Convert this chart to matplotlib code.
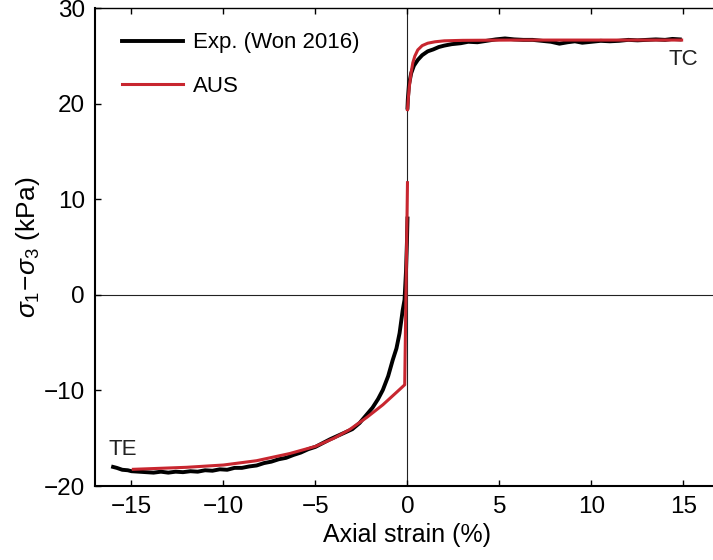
import matplotlib
matplotlib.use("Agg")
import matplotlib.pyplot as plt

plt.rcParams['font.family'] = ['Liberation Sans', 'DejaVu Sans']
plt.rcParams['mathtext.fontset'] = 'custom'
plt.rcParams['mathtext.rm'] = 'Liberation Sans'
plt.rcParams['mathtext.it'] = 'Liberation Sans:italic'

# Experimental data (Won 2016) - extension branch
exp_te_x = [-16.0, -15.8, -15.5, -15.2, -15.0, -14.6, -14.2, -13.8, -13.4, -13.0, -12.6, -12.2,
            -11.8, -11.4, -11.0, -10.6, -10.2, -9.8, -9.4, -9.0, -8.6, -8.2, -7.8, -7.4, -7.0,
            -6.6, -6.2, -5.8, -5.4, -5.0, -4.6, -4.2, -3.8, -3.4, -3.0, -2.6, -2.25, -1.9, -1.6,
            -1.34, -1.05, -0.8, -0.6, -0.43, -0.26, -0.16, -0.08, -0.03, 0.0]
exp_te_y = [-18.0, -18.1, -18.3, -18.35, -18.45, -18.5, -18.55, -18.6, -18.5, -18.6, -18.5, -18.55,
            -18.45, -18.5, -18.35, -18.4, -18.25, -18.3, -18.1, -18.1, -17.95, -17.85, -17.6, -17.45, -17.2,
            -17.05, -16.75, -16.5, -16.15, -15.9, -15.5, -15.1, -14.75, -14.4, -14.05, -13.4, -12.6, -11.8, -10.9,
            -9.95, -8.5, -6.8, -5.6, -4.0, -1.6, -0.5, 2.5, 5.5, 8.0]
# Experimental data - compression branch
exp_tc_x = [0.0, 0.02, 0.08, 0.2, 0.35, 0.56, 0.8, 1.1, 1.4, 1.7, 2.0, 2.4, 2.9, 3.3, 3.8, 4.3, 4.8,
            5.3, 5.8, 6.3, 6.8, 7.3, 7.8, 8.26, 8.7, 9.1, 9.5, 10.0, 10.5, 11.0, 11.5, 12.0, 12.5,
            13.0, 13.5, 14.0, 14.4, 14.8]
exp_tc_y = [19.6, 20.5, 22.0, 23.2, 24.0, 24.6, 25.1, 25.5, 25.7, 25.95, 26.1, 26.25, 26.35, 26.5,
            26.45, 26.6, 26.75, 26.85, 26.75, 26.7, 26.7, 26.6, 26.5, 26.3, 26.45, 26.55, 26.4, 26.5,
            26.6, 26.55, 26.6, 26.7, 26.65, 26.7, 26.75, 26.7, 26.8, 26.75]

# AUS model - extension branch
aus_te_x = [-14.9, -13.5, -12.0, -10.0, -8.2, -6.4, -5.0, -4.0, -3.15, -2.2, -1.34, -0.6, -0.15, 0.0]
aus_te_y = [-18.25, -18.15, -18.04, -17.8, -17.35, -16.6, -15.85, -15.0, -14.1, -12.8, -11.5, -10.2, -9.4, 11.75]
# AUS model - compression branch
aus_tc_x = [0.0, 0.05, 0.1, 0.2, 0.29, 0.4, 0.56, 0.8, 1.1, 1.5, 2.0, 3.0, 5.8, 14.9]
aus_tc_y = [19.4, 20.7, 21.8, 23.3, 24.3, 25.0, 25.65, 26.1, 26.35, 26.5, 26.6, 26.65, 26.68, 26.68]

xticks = [-15, -10, -5, 0, 5, 10, 15]
yticks = [-20, -10, 0, 10, 20, 30]

red = '#c8262f'

fig = plt.figure(figsize=(7.13, 5.60), dpi=100)
ax = fig.add_axes([0.1328, 0.1321, 0.8774, 0.853])

ax.axhline(0, color='#222222', lw=0.8, zorder=1)
ax.axvline(0, color='#222222', lw=0.8, zorder=1)

ax.plot(exp_te_x, exp_te_y, color='black', lw=2.8, label='Exp. (Won 2016)', zorder=2)
ax.plot(exp_tc_x, exp_tc_y, color='black', lw=2.8, zorder=2)
ax.plot(aus_te_x, aus_te_y, color=red, lw=2.2, label='AUS', zorder=3)
ax.plot(aus_tc_x, aus_tc_y, color=red, lw=2.2, zorder=3)

ax.set_xlim(-17, 17)
ax.set_ylim(-20, 30)
ax.set_xticks(xticks)
ax.set_yticks(yticks)
ax.tick_params(direction='in', length=4.5, width=1.0, top=True, right=False,
               labelsize=17.5, pad=7)
ax.spines['right'].set_visible(False)
ax.spines['left'].set_linewidth(1.5)
ax.spines['bottom'].set_linewidth(1.5)
ax.spines['top'].set_linewidth(1.0)

ax.set_xlabel('Axial strain (%)', fontsize=18, labelpad=4)
ax.set_ylabel(r'$\sigma_1\!-\!\sigma_3$ (kPa)', fontsize=19, labelpad=1)

ax.text(-15.46, -16.2, 'TE', fontsize=16, ha='center', va='center', color='#222222')
ax.text(15.0, 24.6, 'TC', fontsize=16, ha='center', va='center', color='#222222')

ax.legend(loc='upper left', frameon=False, fontsize=16, handlelength=2.75,
          handletextpad=0.45, labelspacing=1.02, borderaxespad=0.6,
          bbox_to_anchor=(0.008, 0.996))

fig.savefig('out.png', dpi=100)
